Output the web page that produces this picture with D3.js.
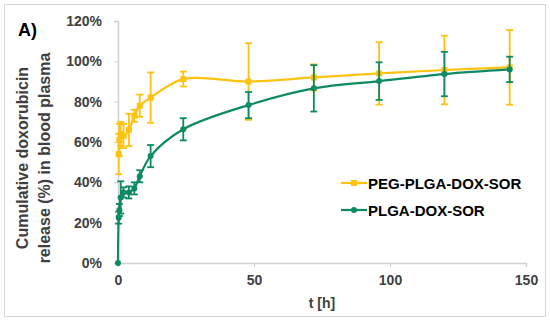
<!DOCTYPE html>
<html>
<head>
<meta charset="utf-8">
<script src="https://cdn.jsdelivr.net/npm/d3@7"></script>
<style>
  body { margin: 0; background: #fff; }
  text { font-family: Arial, "Liberation Sans", sans-serif; font-weight: bold; }
</style>
</head>
<body>
<svg width="550" height="323"></svg>
<script>
// release data, t in hours, value & error in %
let pegTimes = [0.25, 0.5, 1, 2, 4, 6, 8, 12, 24, 48, 72, 96, 120, 144];
let pegValues = [54, 61, 64, 63, 66, 73, 78, 82, 91.2, 90, 92, 94, 95.7, 97];
let pegErrors = [10, 8, 6, 6, 8, 3, 5.5, 12.5, 3.7, 19, 6.5, 15.5, 17, 18.5];

let plgaTimes = [0, 0.25, 0.5, 1, 2, 4, 6, 8, 12, 24, 48, 72, 96, 120, 144];
let plgaValues = [0, 22.5, 26.3, 32.5, 35, 35, 37, 43, 53, 66.3, 78.3, 86.6, 90.2, 93.7, 96];
let plgaErrors = [0, 3, 3, 8, 2.5, 3, 3, 3, 5.5, 5.5, 6.5, 11.5, 9.3, 11, 6.3];

let xTicks = [0, 50, 100, 150];
let yTicks = [0, 20, 40, 60, 80, 100, 120];

let seriesNames = ["PEG-PLGA-DOX-SOR", "PLGA-DOX-SOR"];
let seriesColors = ["#ffc20e", "#0b8a63"];

let svg = d3.select("svg");

// outer frame
svg.append("rect")
  .attr("x", 4.5).attr("y", 4.5)
  .attr("width", 541).attr("height", 312)
  .attr("fill", "none")
  .attr("stroke", "#d9d9d9");

let x = d3.scaleLinear().domain([0, 150]).range([118, 526]);
let y = d3.scaleLinear().domain([0, 120]).range([263, 21]);

// y axis
let yAxis = svg.append("g")
  .attr("transform", "translate(118,0)")
  .call(d3.axisLeft(y).tickValues(yTicks).tickSize(4).tickPadding(12).tickFormat(d => d + "%"));
yAxis.select(".domain").attr("stroke", "#d0d0d0").attr("stroke-width", 1.5);
yAxis.selectAll(".tick line").attr("stroke", "#d0d0d0");
yAxis.selectAll("text").attr("font-size", 14).attr("fill", "#404040")
  .style("font-family", "Arial, 'Liberation Sans', sans-serif");

// x axis
let xAxis = svg.append("g")
  .attr("transform", "translate(0,263)")
  .call(d3.axisBottom(x).tickValues(xTicks).tickSize(4).tickPadding(8));
xAxis.select(".domain").attr("stroke", "#d0d0d0").attr("stroke-width", 1.5);
xAxis.selectAll(".tick line").attr("stroke", "#d0d0d0");
xAxis.selectAll("text").attr("font-size", 14).attr("fill", "#404040")
  .style("font-family", "Arial, 'Liberation Sans', sans-serif");

// axis titles
svg.append("text")
  .attr("x", 322).attr("y", 308)
  .attr("text-anchor", "middle")
  .attr("font-size", 14).attr("fill", "#404040")
  .text("t [h]");

let yTitle = svg.append("text")
  .attr("transform", "translate(35,158) rotate(-90)")
  .attr("text-anchor", "middle")
  .attr("font-size", 16).attr("fill", "#404040");
yTitle.append("tspan").attr("x", 0).attr("y", -7).text("Cumulative doxorubicin");
yTitle.append("tspan").attr("x", 0).attr("y", 15).text("release (%) in blood plasma");

svg.append("text")
  .attr("x", 18).attr("y", 36)
  .attr("font-size", 18).attr("fill", "#000")
  .text("A)");

let line = d3.line()
  .x(d => x(d.t))
  .y(d => y(d.v))
  .curve(d3.curveCatmullRom.alpha(0.5));

function drawSeries(times, values, errors, color, shape) {
  let data = times.map((t, i) => ({ t: t, v: values[i], e: errors[i] }));
  let g = svg.append("g");

  g.append("path")
    .datum(data)
    .attr("d", line)
    .attr("fill", "none")
    .attr("stroke", color)
    .attr("stroke-width", 2.2);

  let err = g.selectAll(".err")
    .data(data.filter(d => d.e > 0))
    .enter().append("g");
  err.append("line")
    .attr("x1", d => x(d.t)).attr("x2", d => x(d.t))
    .attr("y1", d => y(d.v - d.e)).attr("y2", d => y(d.v + d.e))
    .attr("stroke", color).attr("stroke-width", 1.8);
  [-1, 1].forEach(s => {
    err.append("line")
      .attr("x1", d => x(d.t) - 3.5).attr("x2", d => x(d.t) + 3.5)
      .attr("y1", d => y(d.v + s * d.e)).attr("y2", d => y(d.v + s * d.e))
      .attr("stroke", color).attr("stroke-width", 1.8);
  });

  if (shape === "square") {
    g.selectAll(".m")
      .data(data)
      .enter().append("rect")
      .attr("x", d => x(d.t) - 3).attr("y", d => y(d.v) - 3)
      .attr("width", 6).attr("height", 6)
      .attr("fill", color);
  } else {
    g.selectAll(".m")
      .data(data)
      .enter().append("circle")
      .attr("cx", d => x(d.t)).attr("cy", d => y(d.v))
      .attr("r", 3)
      .attr("fill", color);
  }
}

drawSeries(pegTimes, pegValues, pegErrors, seriesColors[0], "square");
drawSeries(plgaTimes, plgaValues, plgaErrors, seriesColors[1], "circle");

// legend
let legend = svg.append("g").attr("transform", "translate(341,183)");
seriesNames.forEach((name, i) => {
  let row = legend.append("g").attr("transform", "translate(0," + (i * 27) + ")");
  row.append("line")
    .attr("x1", 0).attr("x2", 26)
    .attr("stroke", seriesColors[i]).attr("stroke-width", 2.2);
  if (i === 0) {
    row.append("rect").attr("x", 10).attr("y", -3).attr("width", 6).attr("height", 6)
      .attr("fill", seriesColors[i]);
  } else {
    row.append("circle").attr("cx", 13).attr("cy", 0).attr("r", 3)
      .attr("fill", seriesColors[i]);
  }
  row.append("text")
    .attr("x", 27).attr("y", 5.5)
    .attr("font-size", 15).attr("fill", "#000")
    .text(name);
});
</script>
</body>
</html>
